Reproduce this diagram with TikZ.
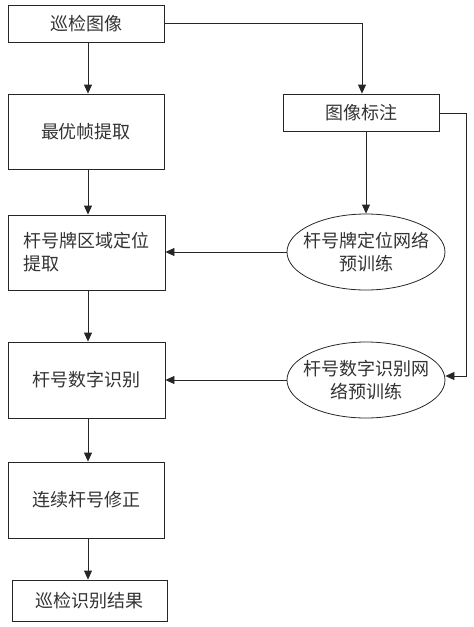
\documentclass[tikz,border=0pt]{standalone}
\usepackage{fontspec}
\setmainfont{Noto Sans CJK SC}
\usetikzlibrary{arrows.meta,shapes.geometric}
\begin{document}
\begin{tikzpicture}[x=1pt,y=-1pt,
  every node/.style={font=\fontsize{18}{23}\selectfont, text=black!80},
  box/.style={draw=black!85, line width=0.8pt, inner sep=0pt, minimum width=156pt},
  ell/.style={draw=black!85, line width=0.8pt, ellipse, inner sep=0pt, minimum width=158pt, minimum height=76pt},
  etext/.style={align=center, inner sep=0pt},
  arr/.style={draw=black!85, line width=0.8pt, -{Triangle[length=9pt,width=8pt]}}]
\useasboundingbox (0,0) rectangle (474,627);
\node[box, minimum height=37pt] (b1) at (86,23.5) {巡检图像};
\node[box, minimum height=75pt] (b2) at (86,131.5) {最优帧提取};
\node[box, minimum height=75pt, minimum width=157pt, align=left] (b3) at (86.5,252.5) {杆号牌区域定位\\提取};
\node[box, minimum height=76pt, minimum width=157pt] (b4) at (86.5,380) {杆号数字识别};
\node[box, minimum height=76pt] (b5) at (86,500) {连续杆号修正};
\node[box, minimum height=41pt, minimum width=155pt] (b6) at (89.5,600.5) {巡检识别结果};
\node[box, minimum height=37pt] (b7) at (361,112.5) {图像标注};
\node[ell] (e1) at (366,252) {};
\node[etext] (t1) at (e1.center) {杆号牌定位网络\\预训练};
\node[ell] (e2) at (366,380) {};
\node[etext] (t2) at (e2.center) {杆号数字识别网\\络预训练};
\coordinate (c1) at (362,23.5);
\coordinate (c2) at (466,113);
\coordinate (c3) at (466,376);
\draw[arr] (b1.east |- c1) -- (c1) -- (c1 |- b7.north);
\draw[arr] (b1.south -| 88,0) -- (b2.north -| 88,0);
\draw[arr] (b2.south -| 88,0) -- (b3.north -| 88,0);
\draw[arr] (b3.south -| 88,0) -- (b4.north -| 88,0);
\draw[arr] (b4.south -| 88,0) -- (b5.north -| 88,0);
\draw[arr] (b5.south -| 88,0) -- (b6.north -| 88,0);
\draw[arr] (b7.south -| e1.north) -- (e1.north);
\draw[arr] (e1.west) -- (b3.east |- e1.west);
\draw[arr] (b7.east |- c2) -- (c2) -- (c3) -- (e2.east |- c3);
\draw[arr] (e2.west) -- (b4.east |- e2.west);
\end{tikzpicture}
\end{document}
